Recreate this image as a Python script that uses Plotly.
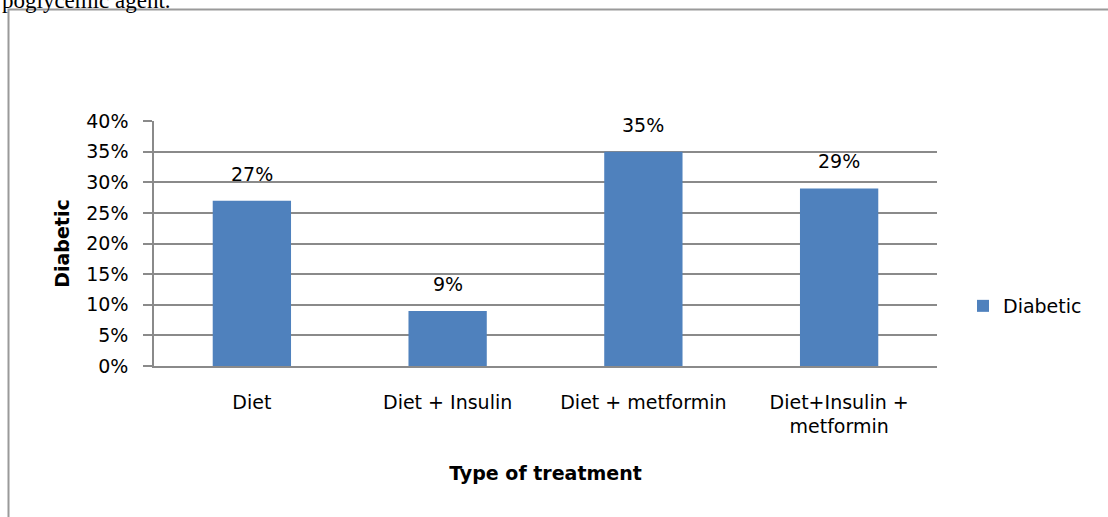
import plotly.graph_objects as go

# Share of diabetic patients by type of treatment
categories = ["Diet", "Diet + Insulin", "Diet + metformin", "Diet+Insulin +<br>metformin"]
diabetic = [0.27, 0.09, 0.35, 0.29]
y_ticks = [0, 0.05, 0.10, 0.15, 0.20, 0.25, 0.30, 0.35, 0.40]

W, H = 1108, 517
X0, X1 = 154, 937      # plot area, horizontal pixels
Y0, Y1 = 121, 366      # plot area, vertical pixels (top, bottom)
FONT = "DejaVu Sans"
GRID = "#8a8a8a"
BLUE = "#4F81BD"

fig = go.Figure()
fig.add_trace(go.Bar(
    x=categories, y=diabetic, name="Diabetic",
    marker=dict(color=BLUE, line=dict(width=0)),
    showlegend=True,
))

# value labels above each bar
for c, v in zip(categories, diabetic):
    fig.add_annotation(
        x=c, y=v, xref="x", yref="y", text=f"{round(v * 100)}%",
        showarrow=False, yanchor="bottom", yshift=14,
        font=dict(family=FONT, size=19, color="#000000"),
    )

# caption line running off the top of the page (placed relative to the
# axis domains so it does not push the page margins)
fig.add_annotation(
    x=(0 - X0) / (X1 - X0), y=(Y1 - 0) / (Y1 - Y0),
    xref="x domain", yref="y domain", xanchor="left", yanchor="middle",
    text="poglycemic agent.", showarrow=False,
    font=dict(family="Liberation Serif", size=23, color="#000000"),
)

# frame around the chart area
fig.add_shape(
    type="rect", xref="paper", yref="paper",
    x0=8.5 / W, x1=1.05, y0=-0.05, y1=1 - 9.5 / H,
    line=dict(color="#9a9a9a", width=2), fillcolor="rgba(0,0,0,0)", layer="below",
)

fig.update_layout(
    width=W, height=H,
    margin=dict(l=0, r=0, t=0, b=0, autoexpand=False),
    paper_bgcolor="white", plot_bgcolor="white",
    font=dict(family=FONT, size=19, color="#000000"),
    bargap=0.6,
    showlegend=True,
    legend=dict(
        x=963 / W, y=1 - 306 / H, xanchor="left", yanchor="middle",
        font=dict(family=FONT, size=19, color="#000000"),
        bgcolor="rgba(0,0,0,0)", borderwidth=0,
    ),
    xaxis=dict(
        domain=[X0 / W, X1 / W],
        type="category", range=[-0.5, 3.5],
        showline=True, linecolor=GRID, linewidth=1.5,
        ticks="", showgrid=False, zeroline=False,
        ticklabelstandoff=18,
        tickfont=dict(family=FONT, size=19, color="#000000"),
        title=dict(text="<b>Type of treatment</b>", standoff=30,
                   font=dict(family=FONT, size=19, color="#000000")),
    ),
    yaxis=dict(
        domain=[1 - Y1 / H, 1 - Y0 / H],
        range=[0, 0.4], tickvals=y_ticks, tickformat=".0%",
        showline=True, linecolor=GRID, linewidth=1.5,
        ticks="outside", ticklen=9, tickcolor=GRID, tickwidth=1.5,
        showgrid=True, gridcolor=GRID, gridwidth=1.5, zeroline=False,
        ticklabelstandoff=11,
        tickfont=dict(family=FONT, size=19, color="#000000"),
        title=dict(text="<b>Diabetic</b>", standoff=12,
                   font=dict(family=FONT, size=19, color="#000000")),
    ),
)

fig.write_html("out.html")
